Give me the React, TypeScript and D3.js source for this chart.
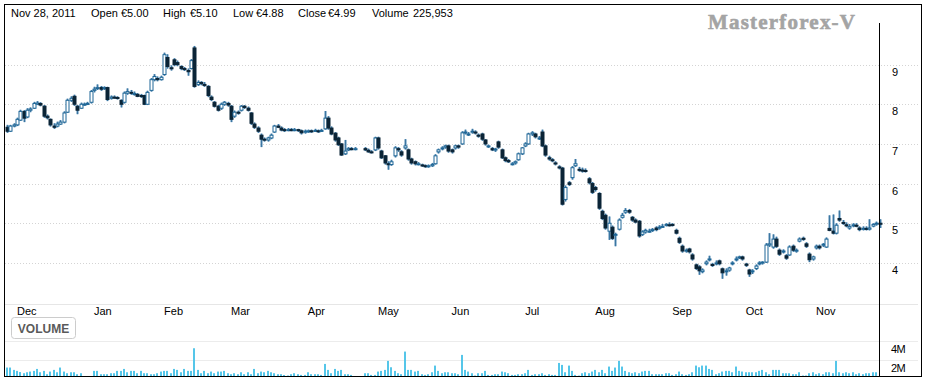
import React from "react";
import * as d3 from "d3";

// ---------- DATA ----------
const startDate = "2010-11-26";
const endDate = "2011-11-28";
const holidays = ["2011-04-22", "2011-04-25"];
const monthNames = ["Jan","Feb","Mar","Apr","May","Jun","Jul","Aug","Sep","Oct","Nov","Dec"];
const priceTicks = [9, 8, 7, 6, 5, 4];
const volumeTicks = [4, 2];
const volumeTickLabels = ["4M", "2M"];

const header = [
  { text: "Nov 28, 2011", x: 11 },
  { text: "Open", x: 91 }, { text: "€5.00", x: 121 },
  { text: "High", x: 163 }, { text: "€5.10", x: 190 },
  { text: "Low", x: 233 }, { text: "€4.88", x: 256 },
  { text: "Close", x: 298 }, { text: "€4.99", x: 328 },
  { text: "Volume", x: 372 }, { text: "225,953", x: 413 },
];

// one entry per weekday (null = market closed)
const openP = [
  7.42,7.32,7.45,7.48,7.60,7.82,7.68,7.85,7.90,8.00,
  8.02,7.95,7.70,7.62,7.45,7.45,7.50,7.55,7.80,8.10,
  8.20,7.95,7.90,8.00,8.00,8.05,8.35,8.40,8.42,8.40,
  8.42,8.15,8.18,8.17,8.10,8.05,8.28,8.30,8.27,8.25,
  8.22,8.22,8.00,8.35,8.62,8.65,8.62,8.75,9.18,8.92,
  9.12,9.05,8.95,8.90,8.85,8.90,9.42,8.50,8.55,8.50,
  8.45,8.18,8.05,7.95,7.90,8.00,8.02,7.95,7.70,7.80,
  7.85,7.95,7.90,7.78,7.50,7.40,7.22,7.12,7.10,7.15,
  7.30,7.45,7.40,7.36,7.35,7.36,7.35,7.36,7.33,7.30,
  7.32,7.33,7.32,7.33,7.32,7.38,7.65,7.40,7.27,7.15,
  7.00,6.75,6.85,6.88,6.86,null,null,6.88,6.84,6.80,
  6.85,7.15,6.82,6.70,6.50,6.48,6.70,6.88,6.80,6.90,
  6.85,6.62,6.55,6.50,6.47,6.45,6.43,6.45,6.50,6.80,
  6.88,6.92,6.95,6.85,6.90,6.95,7.00,7.28,7.25,7.30,
  7.30,7.22,7.25,7.10,6.95,6.88,6.85,7.05,6.85,6.65,
  6.58,6.50,6.52,6.60,6.75,6.95,7.00,7.25,7.25,7.15,
  7.30,6.95,6.65,6.60,6.52,6.42,6.39,5.60,6.02,6.15,
  6.45,6.36,6.34,6.33,6.12,6.00,5.90,5.75,5.30,5.20,
  4.80,4.90,4.70,4.85,5.15,5.28,5.32,5.15,5.08,5.05,
  4.72,4.78,4.80,4.82,4.88,4.88,4.90,4.95,4.96,4.97,
  4.82,4.62,4.42,4.30,4.35,4.20,3.95,3.90,3.78,3.98,
  4.08,3.96,3.98,4.05,3.85,3.78,3.82,3.98,4.08,4.13,
  4.15,3.97,3.82,3.78,3.86,3.98,4.00,4.02,4.45,4.40,
  4.60,4.32,4.28,4.18,4.20,4.42,4.30,4.55,4.62,4.48,
  4.22,4.10,4.38,4.42,4.45,4.40,4.87,4.80,4.75,5.12,
  5.02,4.96,4.88,4.95,4.95,4.88,4.86,4.87,4.85,4.93,
  4.98,5.00,
];
const highP = [
  7.48,7.48,7.52,7.66,7.86,7.85,7.90,7.92,8.06,8.08,
  8.05,7.98,7.74,7.64,7.52,7.56,7.60,7.82,8.14,8.20,
  8.24,7.98,8.04,8.04,8.06,8.36,8.44,8.50,8.46,8.45,
  8.44,8.22,8.22,8.20,8.12,8.32,8.40,8.36,8.32,8.28,
  8.26,8.24,8.34,8.66,8.76,8.70,8.72,9.30,9.26,8.98,
  9.16,9.10,8.98,8.94,8.90,9.14,9.47,8.60,8.58,8.56,
  8.48,8.22,8.08,7.98,8.04,8.08,8.06,7.98,7.84,7.84,
  7.98,7.98,7.94,7.80,7.54,7.44,7.26,7.16,7.18,7.26,
  7.48,7.50,7.44,7.40,7.40,7.40,7.40,7.38,7.36,7.36,
  7.36,7.36,7.38,7.36,7.38,7.83,7.70,7.44,7.30,7.18,
  7.02,7.10,6.92,6.92,6.92,null,null,6.92,6.88,6.84,
  7.18,7.18,6.85,6.72,6.56,6.60,6.94,6.92,6.84,7.12,
  6.88,6.65,6.58,6.54,6.50,6.48,6.48,6.52,6.74,6.88,
  6.94,6.98,6.98,6.88,6.98,6.98,7.32,7.36,7.30,7.38,
  7.34,7.26,7.28,7.12,6.98,6.92,6.90,7.08,6.88,6.68,
  6.62,6.54,6.58,6.78,6.92,7.04,7.28,7.32,7.28,7.20,
  7.36,6.98,6.70,6.64,6.56,6.46,6.42,5.95,6.06,6.44,
  6.62,6.42,6.40,6.38,6.16,6.04,5.94,5.78,5.34,5.24,
  5.17,4.94,4.76,5.12,5.26,5.38,5.36,5.18,5.12,5.08,
  4.82,4.86,4.86,4.88,4.92,4.95,4.98,5.00,5.02,5.00,
  4.86,4.66,4.46,4.36,4.38,4.24,3.98,3.94,3.86,4.06,
  4.18,4.00,4.06,4.08,3.88,3.86,3.90,4.04,4.16,4.18,
  4.18,4.00,3.85,3.84,3.96,4.04,4.04,4.50,4.75,4.72,
  4.66,4.36,4.34,4.22,4.44,4.46,4.36,4.64,4.66,4.52,
  4.26,4.18,4.46,4.46,4.50,4.64,5.20,5.22,5.00,5.32,
  5.08,5.02,4.98,5.00,5.00,4.92,4.92,4.92,5.10,5.00,
  5.04,5.10,
];
const lowP = [
  7.28,7.30,7.42,7.45,7.58,7.55,7.65,7.80,7.88,7.98,
  7.95,7.66,7.62,7.44,7.38,7.42,7.48,7.52,7.78,8.06,
  7.96,7.75,7.88,7.96,7.98,8.02,8.30,8.36,8.34,8.36,
  8.08,8.12,8.14,8.12,7.92,8.02,8.24,8.24,8.22,8.18,
  8.16,7.98,7.98,8.32,8.58,8.58,8.60,8.72,8.90,8.85,
  8.96,8.96,8.86,8.84,8.72,8.88,8.42,8.46,8.48,8.44,
  8.18,8.08,7.92,7.82,7.86,7.96,7.94,7.55,7.66,7.74,
  7.82,7.88,7.82,7.48,7.38,7.28,6.92,7.06,7.06,7.12,
  7.28,7.40,7.32,7.30,7.32,7.32,7.32,7.30,7.24,7.26,
  7.28,7.28,7.30,7.28,7.30,7.36,7.36,7.22,7.06,6.95,
  6.70,6.72,6.82,6.84,6.84,null,null,6.82,6.78,6.76,
  6.82,6.86,6.62,6.48,6.35,6.45,6.66,6.80,6.68,6.86,
  6.58,6.48,6.46,6.46,6.42,6.40,6.40,6.42,6.48,6.76,
  6.84,6.88,6.78,6.76,6.86,6.88,6.98,7.24,7.20,7.26,
  7.24,7.16,7.08,6.96,6.90,6.82,6.80,6.88,6.62,6.54,
  6.52,6.46,6.48,6.58,6.72,6.92,6.98,7.20,7.14,7.10,
  6.92,6.68,6.58,6.54,6.46,6.36,5.45,5.55,5.94,6.10,
  6.42,6.30,6.28,6.28,5.98,5.74,5.80,5.34,5.08,4.84,
  4.58,4.58,4.42,4.82,5.12,5.24,5.24,5.04,5.00,4.64,
  4.68,4.74,4.76,4.78,4.80,4.84,4.88,4.92,4.92,4.92,
  4.72,4.48,4.26,4.26,4.24,4.06,3.82,3.70,3.74,3.94,
  4.04,3.90,3.94,3.94,3.60,3.68,3.78,3.94,4.04,4.10,
  4.06,3.90,3.65,3.72,3.82,3.94,3.96,4.00,4.40,4.36,
  4.38,4.18,4.24,4.08,4.18,4.28,4.26,4.52,4.56,4.38,
  4.02,4.06,4.34,4.34,4.40,4.38,4.80,4.72,4.72,5.04,
  4.96,4.90,4.84,4.90,4.90,4.80,4.82,4.82,4.82,4.90,
  4.94,4.88,
];
const closeP = [
  7.32,7.45,7.48,7.62,7.82,7.65,7.85,7.88,8.02,8.03,
  7.98,7.70,7.66,7.48,7.42,7.50,7.55,7.78,8.10,8.15,
  8.00,7.85,8.00,8.00,8.02,8.32,8.38,8.42,8.38,8.42,
  8.12,8.18,8.17,8.15,8.00,8.28,8.32,8.28,8.27,8.20,
  8.20,8.00,8.30,8.62,8.70,8.62,8.68,9.25,8.95,8.90,
  9.00,9.00,8.90,8.88,8.82,9.10,8.45,8.55,8.52,8.48,
  8.22,8.12,7.95,7.85,8.00,8.05,7.98,7.62,7.80,7.78,
  7.95,7.92,7.85,7.52,7.42,7.32,7.12,7.10,7.15,7.22,
  7.45,7.42,7.35,7.34,7.36,7.35,7.36,7.35,7.28,7.32,
  7.33,7.32,7.34,7.32,7.34,7.65,7.40,7.25,7.10,6.98,
  6.72,6.82,6.88,6.87,6.88,null,null,6.85,6.80,6.79,
  7.15,6.90,6.65,6.52,6.48,6.55,6.90,6.85,6.72,6.95,
  6.62,6.52,6.50,6.50,6.45,6.43,6.45,6.48,6.70,6.85,
  6.90,6.95,6.82,6.80,6.95,6.92,7.28,7.30,7.25,7.32,
  7.28,7.20,7.12,7.00,6.95,6.85,6.87,6.92,6.65,6.58,
  6.55,6.50,6.55,6.75,6.90,7.00,7.25,7.28,7.18,7.15,
  6.95,6.72,6.62,6.58,6.50,6.40,5.48,5.90,5.98,6.40,
  6.50,6.35,6.33,6.32,6.02,5.78,5.85,5.38,5.12,4.88,
  5.00,4.62,4.72,5.08,5.20,5.32,5.28,5.08,5.03,4.68,
  4.78,4.82,4.80,4.84,4.84,4.90,4.92,4.97,4.95,4.95,
  4.75,4.52,4.30,4.32,4.28,4.10,3.86,3.80,3.82,4.02,
  4.10,3.95,4.00,3.98,3.75,3.80,3.87,4.00,4.10,4.15,
  4.10,3.94,3.72,3.80,3.92,4.00,4.02,4.45,4.48,4.60,
  4.42,4.22,4.30,4.12,4.40,4.32,4.32,4.60,4.60,4.42,
  4.08,4.15,4.42,4.38,4.47,4.60,4.82,4.75,4.95,5.08,
  5.00,4.95,4.92,4.96,4.94,4.84,4.87,4.86,4.88,4.97,
  5.00,4.99,
];
// volume in millions of shares
const volumeM = [
  1.26,1.26,1.02,0.92,0.80,0.68,0.78,0.85,0.92,1.12,
  0.78,0.92,0.58,0.85,1.02,0.78,1.26,0.85,0.68,0.78,
  0.78,0.58,0.68,0.35,0.30,0.35,0.92,0.92,0.58,0.58,
  0.58,0.68,0.68,0.92,0.92,1.12,0.78,0.92,0.92,0.68,
  0.92,0.68,0.68,0.58,0.58,0.68,0.85,0.92,0.92,0.68,
  1.12,1.02,0.78,1.12,0.92,0.92,3.23,1.02,0.68,0.92,
  0.68,0.85,0.68,0.85,0.85,0.92,0.68,0.58,0.68,0.58,
  0.78,0.58,0.78,0.58,1.12,0.68,0.85,0.78,0.92,0.78,
  0.68,0.58,0.58,0.50,0.45,0.58,0.68,0.58,0.51,0.51,
  0.78,0.58,0.58,0.58,0.51,1.63,1.02,0.68,1.12,0.92,
  1.02,0.58,0.58,0.51,0.40,null,null,0.68,0.68,0.51,
  0.51,0.85,0.92,1.02,1.94,1.29,0.92,0.68,0.58,2.89,
  1.02,1.02,0.85,0.92,0.58,0.51,0.58,0.78,1.46,0.92,
  0.68,0.78,0.78,0.68,0.68,0.58,2.55,1.02,0.85,0.68,
  0.45,0.68,0.68,0.92,0.51,0.51,0.58,0.58,0.85,0.78,
  0.68,0.51,0.51,0.58,0.58,0.68,1.02,0.51,0.58,0.58,
  0.68,0.51,0.58,0.51,0.51,1.73,1.53,0.78,1.46,0.92,
  0.51,0.44,0.68,0.78,0.68,0.85,1.02,0.78,1.02,0.68,
  1.36,0.92,1.26,1.94,1.36,0.92,0.78,0.68,0.78,0.68,
  0.85,0.92,0.92,0.58,0.58,0.58,0.58,0.68,0.68,0.51,
  0.58,0.85,0.58,0.51,0.58,0.78,1.46,1.29,1.46,1.46,
  1.12,1.02,0.58,0.68,0.85,0.92,0.92,0.78,1.36,0.92,
  0.85,0.78,0.78,0.78,0.78,0.92,1.02,0.78,0.58,1.02,
  1.02,1.02,0.68,0.68,0.68,0.58,0.58,0.78,0.45,0.45,
  0.68,0.78,0.58,0.68,0.58,0.78,0.78,0.68,1.94,0.78,
  0.68,0.78,0.68,0.78,0.58,0.68,0.58,0.68,0.68,0.78,
  0.78,0.23,
];

// ---------- helpers ----------
function weekdays(from: string, to: string): Date[] {
  const out: Date[] = [];
  const d = new Date(from + "T12:00:00");
  const e = new Date(to + "T12:00:00");
  while (d <= e) {
    const wd = d.getDay();
    if (wd !== 0 && wd !== 6) out.push(new Date(d));
    d.setDate(d.getDate() + 1);
  }
  return out;
}
const fmt = d3.timeFormat("%Y-%m-%d");

export default function App() {
  const W = 925, H = 385;
  const days = weekdays(startDate, endDate);
  const candles = days
    .map((date, i) => ({
      i, date, o: openP[i], h: highP[i], l: lowP[i], c: closeP[i], v: volumeM[i],
    }))
    .filter((d) => d.o != null && !holidays.includes(fmt(d.date)));

  const x = d3.scaleLinear().domain([0, days.length - 1]).range([7, 879.5]);
  const y = d3.scaleLinear().domain([4, 9]).range([262.9, 64.6]);
  const yv = d3.scaleLinear().domain([0, 4]).range([379.9, 340.7]);

  const monthStarts: { label: string; i: number }[] = [];
  let prevMonth = days[0].getMonth();
  candles.forEach((c) => {
    const m = c.date.getMonth();
    if (m !== prevMonth) {
      monthStarts.push({ label: monthNames[m], i: c.i });
      prevMonth = m;
    }
  });

  const font = "'Liberation Sans', Arial, sans-serif";
  const bw = 3;
  const gridX1 = 5, gridX2 = 918;

  return (
    <svg width={W} height={H} style={{ position: "absolute", left: 0, top: 0, background: "#fff" }}
      fontFamily={font}>
      <defs>
        <clipPath id="volclip"><rect x={5} y={300} width={874} height={76} /></clipPath>
      </defs>
      <rect x={0} y={0} width={W} height={H} fill="#fff" />

      {priceTicks.map((t) => (
        <g key={t}>
          <line x1={gridX1} x2={gridX2} y1={Math.round(y(t)) + 0.5} y2={Math.round(y(t)) + 0.5}
            stroke="#d4d4d4" strokeDasharray="1,2" />
          <text x={892} y={y(t) + 11} fontSize={11} fill="#000">{t}</text>
        </g>
      ))}
      <line x1={gridX1} x2={gridX2} y1={304.5} y2={304.5} stroke="#e6e6e6" />
      {volumeTicks.map((t, k) => (
        <g key={t}>
          <line x1={gridX1} x2={gridX2} y1={Math.round(yv(t)) + 0.5} y2={Math.round(yv(t)) + 0.5}
            stroke="#ececec" />
          <text x={891} y={yv(t) + 12} fontSize={11} fill="#000" letterSpacing={-0.5}>{volumeTickLabels[k]}</text>
        </g>
      ))}

      {monthStarts.map((m) => (
        <text key={m.label + m.i} x={x(m.i)} y={315} fontSize={11} fill="#000">{m.label}</text>
      ))}

      <g clipPath="url(#volclip)">
        {candles.map((c) => (
          <rect key={c.i} x={Math.round(x(c.i)) - 1} width={2} y={yv(c.v as number)}
            height={yv(0) - yv(c.v as number)} fill="#55c6e9" />
        ))}
      </g>

      {candles.map((c) => {
        const cx = Math.round(x(c.i)) + 0.5;
        const o = c.o as number, cl = c.c as number;
        const up = cl >= o;
        const top = y(Math.max(o, cl));
        const bot = y(Math.min(o, cl));
        const hgt = Math.max(bot - top, 1);
        return (
          <g key={c.i}>
            <line x1={cx} x2={cx} y1={y(c.h as number)} y2={y(c.l as number)} stroke="#7ea8c8" strokeWidth={2.4} />
            <line x1={cx} x2={cx} y1={y(c.h as number)} y2={y(c.l as number)} stroke="#2a6a98" strokeWidth={0.8} />
            {up ? (
              <rect x={cx - bw / 2} y={top} width={bw} height={hgt} fill="#fff" stroke="#1f6797" strokeWidth={1} />
            ) : (
              <rect x={cx - bw / 2} y={top} width={bw} height={hgt} fill="#0b2436" stroke="#0b2436" strokeWidth={1} />
            )}
          </g>
        );
      })}

      <rect x={11.5} y={317.5} width={64} height={21} rx={3} fill="#fff" stroke="#cccccc" />
      <text x={43.5} y={332.5} fontSize={12} fontWeight="bold" fill="#5a5a5a" textAnchor="middle">VOLUME</text>

      {header.map((h) => (
        <text key={h.text + h.x} x={h.x} y={17} fontSize={11} fill="#000">{h.text}</text>
      ))}

      <text x={708} y={29} fontFamily="'Liberation Serif', 'Times New Roman', serif" fontWeight="bold"
        fontSize={21} letterSpacing={1.2} fill="#a4a4a4" stroke="#a4a4a4" strokeWidth={0.6}>Masterforex-V</text>

      <line x1={879.5} x2={879.5} y1={23} y2={377} stroke="#000" />
      <rect x={4.5} y={4.5} width={917} height={372} fill="none" stroke="#000" />
    </svg>
  );
}
